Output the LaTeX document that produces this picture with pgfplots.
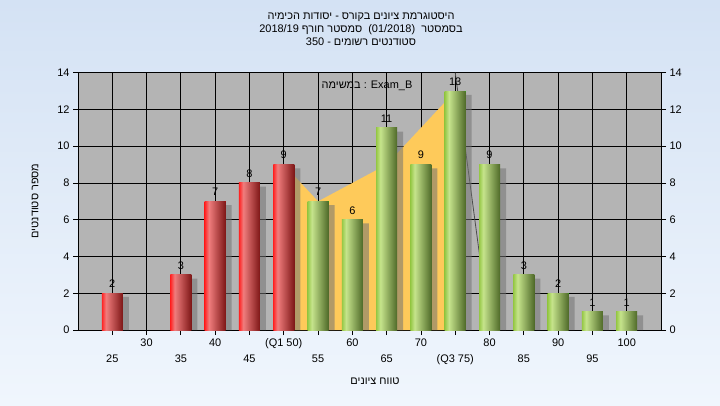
\documentclass[border=0pt]{standalone}
\usepackage{pgfplots}
\pgfplotsset{compat=1.18}
\usepackage{fontspec}
\setmainfont{Liberation Sans}
\newfontfamily\heb[Script=Hebrew]{Liberation Sans}
\TeXXeTstate=1
\definecolor{bgtop}{RGB}{212,226,244}
\definecolor{bgbot}{RGB}{240,246,253}
\definecolor{plotgray}{RGB}{180,180,180}
\definecolor{yellowarea}{RGB}{254,202,90}
\definecolor{rA}{RGB}{255,35,35}
\definecolor{rB}{RGB}{240,125,125}
\definecolor{rC}{RGB}{125,22,22}
\definecolor{gA}{RGB}{150,200,70}
\definecolor{gB}{RGB}{198,228,140}
\definecolor{gC}{RGB}{78,105,40}
\pgfdeclarehorizontalshading{redcyl}{100bp}{color(0bp)=(rA); color(25bp)=(rA); color(35bp)=(rB); color(75bp)=(rC); color(100bp)=(rC)}
\pgfdeclarehorizontalshading{greencyl}{100bp}{color(0bp)=(gA); color(25bp)=(gA); color(35bp)=(gB); color(75bp)=(gC); color(100bp)=(gC)}
\newcommand{\fs}{\fontsize{11}{13}\selectfont}
\pgfplotsset{
  redbar/.style={ybar, bar width=21bp, bar shift=0pt, draw=none, fill=red, shading=redcyl, shade, nodes near coords},
  greenbar/.style={ybar, bar width=21bp, bar shift=0pt, draw=none, fill=green, shading=greencyl, shade, nodes near coords},
}
\begin{document}
\begin{tikzpicture}[x=1bp,y=1bp]
\shade[top color=bgtop, bottom color=bgbot] (0,0) rectangle (720,405);
\begin{axis}[at={(78bp,75bp)}, anchor=south west, scale only axis,
  width=583bp, height=257.3bp,
  xmin=20, xmax=105, ymin=0, ymax=14,
  axis background/.style={fill=plotgray},
  grid=major, major grid style={black, line width=0.8bp},
  axis line style={black, line width=0.8bp},
  tick style={black, line width=0.8bp},
  tick align=outside, major tick length=5bp,
  xtick={30,40,...,100},
  xticklabels={30,40,(Q1 50),60,70,80,90,100},
  extra x ticks={25,35,45,55,65,75,85,95},
  extra x tick labels={25,35,45,55,65,(Q3 75),85,95},
  extra x tick style={grid=major, xticklabel style={yshift=-16bp}},
  xtick pos=left, ytick pos=left,
  ytick={0,2,...,14},
  ticklabel style={font=\fs, black},
  /pgf/number format/assume math mode=true,
  every node near coord/.append style={font=\fs, black, yshift=2bp},
]
\addplot[fill=yellowarea, draw=none] coordinates {(50,0)(50,9)(55,7)(60,8)(65,9)(70,11)(75,13)(75,0)} -- cycle;
\addplot[line width=0.8bp, black!70] coordinates {(75,14)(80,0)};
\addplot[ybar, bar width=21bp, bar shift=6bp, fill=black!55, fill opacity=0.55, draw=none]
  coordinates {(25,1.8)(35,2.8)(40,6.8)(45,7.8)(50,8.8)(55,6.8)(60,5.8)(65,10.8)(70,8.8)(75,12.8)(80,8.8)(85,2.8)(90,1.8)(95,0.8)(100,0.8)};
\addplot[redbar] coordinates {(25,2)};
\addplot[redbar] coordinates {(35,3)};
\addplot[redbar] coordinates {(40,7)};
\addplot[redbar] coordinates {(45,8)};
\addplot[redbar] coordinates {(50,9)};
\addplot[greenbar] coordinates {(55,7)};
\addplot[greenbar] coordinates {(60,6)};
\addplot[greenbar] coordinates {(65,11)};
\addplot[greenbar] coordinates {(70,9)};
\addplot[greenbar] coordinates {(75,13)};
\addplot[greenbar] coordinates {(80,9)};
\addplot[greenbar] coordinates {(85,3)};
\addplot[greenbar] coordinates {(90,2)};
\addplot[greenbar] coordinates {(95,1)};
\addplot[greenbar] coordinates {(100,1)};
\end{axis}
\begin{axis}[at={(78bp,75bp)}, anchor=south west, scale only axis,
  width=583bp, height=257.3bp,
  xmin=20, xmax=105, ymin=0, ymax=14,
  axis x line=none, axis y line*=right,
  axis line style={black, line width=0.8bp},
  tick style={black, line width=0.8bp},
  tick align=outside, major tick length=5bp,
  ytick={0,2,...,14},
  ticklabel style={font=\fs, black},
  /pgf/number format/assume math mode=true,
]
\addplot[draw=none] coordinates {(20,0)(105,14)};
\end{axis}
\node[font=\fs\heb] at (361,388) {\beginR היסטוגרמת ציונים בקורס - יסודות הכימיה\endR};
\node[font=\fs\heb] at (361,375.5) {\beginR בסמסטר\ \ \beginL(01/2018)\endL\ \ סמסטר חורף \beginL2018/19\endL\endR};
\node[font=\fs\heb] at (361,363) {\beginR סטודנטים רשומים - \beginL350\endL\endR};
\node[font=\fs] at (367,319) {{\heb\beginR במשימה\endR} : Exam\_B};
\node[font=\fs\heb, rotate=90] at (35,204) {\beginR מספר סטודנטים\endR};
\node[font=\fs\heb] at (375,24) {\beginR טווח ציונים\endR};
\end{tikzpicture}
\end{document}
